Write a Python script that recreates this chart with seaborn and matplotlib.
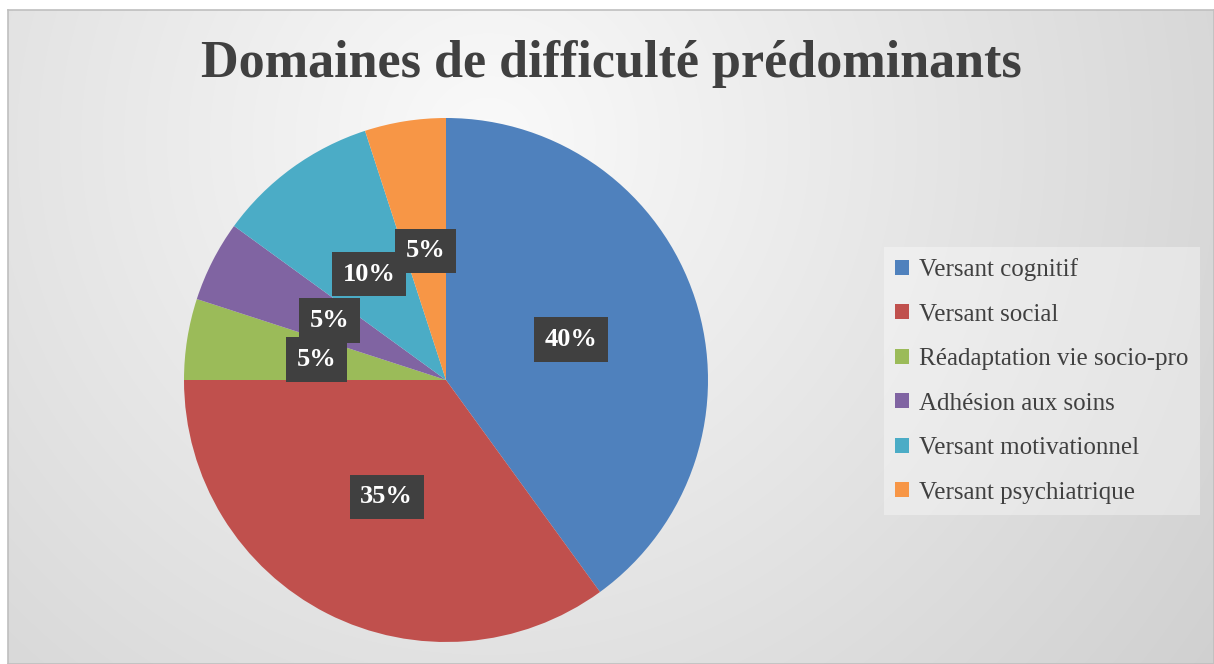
import matplotlib
matplotlib.use('Agg')
import matplotlib.pyplot as plt
import seaborn as sns
import numpy as np

sns.set_theme(style="white")
plt.rcParams['font.family'] = ['Liberation Serif', 'DejaVu Serif']

# data
categories = ['Versant cognitif', 'Versant social',
              'Réadaptation vie socio-pro', 'Adhésion aux soins',
              'Versant motivationnel', 'Versant psychiatrique']
values = [40, 35, 5, 5, 10, 5]
colors = ['#4F81BD', '#C0504D', '#9BBB59', '#8064A2', '#4BACC6', '#F79646']
title = 'Domaines de difficulté prédominants'

W, H = 1214, 664
fig = plt.figure(figsize=(W / 100, H / 100), dpi=100)
fig.patch.set_facecolor('white')

# background panel with radial gradient
bg = fig.add_axes([8 / W, 0, (W - 8) / W, (H - 10) / H])
yy, xx = np.mgrid[0:654, 0:1206]
dist = np.hypot(xx - 480, yy - 130)
shade = 250 - 42 * np.clip(dist / 900, 0, 1)
img = np.dstack([shade, shade, shade]) / 255
bg.imshow(img, aspect='auto', extent=[0, 1, 0, 1], origin='upper')
bg.set_xticks([])
bg.set_yticks([])
for s in bg.spines.values():
    s.set_edgecolor('#bfbfbf')
    s.set_linewidth(1.2)

# pie
cx, cy, r = 446, 380, 262
ax = fig.add_axes([(cx - r) / W, (H - cy - r) / H, 2 * r / W, 2 * r / H])
ax.set_facecolor('none')
wedges, texts, autotexts = ax.pie(
    values, colors=colors, startangle=90, counterclock=False,
    autopct='%1.0f%%', pctdistance=0.5,
    wedgeprops=dict(linewidth=0))
for t in autotexts:
    t.set_color('white')
    t.set_fontsize(19)
    t.set_fontweight('bold')
    t.set_bbox(dict(boxstyle='square,pad=0.4', facecolor='#404040',
                    edgecolor='none'))
ax.set_xlim(-1, 1)
ax.set_ylim(-1, 1)

fig.text(611 / W, 1 - 64 / H, title, ha='center', va='center',
         fontsize=37.5, fontweight='bold', color='#404040')

leg = fig.legend(wedges, categories, loc='center left',
                 bbox_to_anchor=(884 / W, 1 - 381 / H), borderaxespad=0,
                 frameon=True, fontsize=18, labelspacing=0.9,
                 handlelength=0.55, handleheight=0.55, handletextpad=0.4,
                 borderpad=0.45, fancybox=False)
leg.get_frame().set_facecolor('#ffffff')
leg.get_frame().set_alpha(0.35)
leg.get_frame().set_edgecolor('none')
for t in leg.get_texts():
    t.set_color('#404040')

plt.savefig('out.png', dpi=100, facecolor='white')
plt.close()
